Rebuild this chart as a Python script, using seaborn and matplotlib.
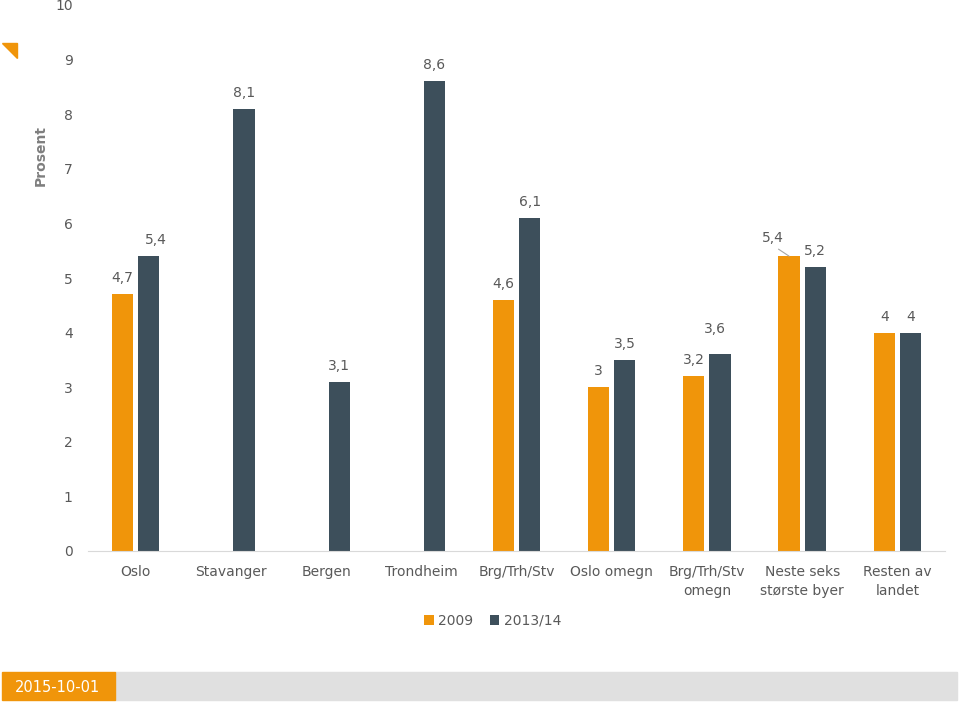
import pandas as pd
import matplotlib.pyplot as plt
import seaborn as sns
import numpy as np
from matplotlib.patches import Polygon, Rectangle

# data
kategorier = ["Oslo", "Stavanger", "Bergen", "Trondheim", "Brg/Trh/Stv",
              "Oslo omegn", "Brg/Trh/Stv\nomegn", "Neste seks\nstørste byer",
              "Resten av\nlandet"]
verdier_2009 = [4.7, np.nan, np.nan, np.nan, 4.6, 3.0, 3.2, 5.4, 4.0]
verdier_2013 = [5.4, 8.1, 3.1, 8.6, 6.1, 3.5, 3.6, 5.2, 4.0]
aar = ["2009", "2013/14"]

df = pd.DataFrame({
    "Kategori": kategorier * 2,
    "År": [aar[0]] * len(kategorier) + [aar[1]] * len(kategorier),
    "Prosent": verdier_2009 + verdier_2013,
})

orange = "#f0950a"
dark = "#3d4f5b"
grey_txt = "#595959"

sns.set_style("white")
plt.rcParams['font.family'] = ['DejaVu Sans']

fig = plt.figure(figsize=(9.6, 7.06), dpi=100)
ax = fig.add_axes([88 / 960, 1 - 551 / 706, 857 / 960, 546 / 706])

sns.barplot(data=df, x="Kategori", y="Prosent", hue="År", hue_order=aar,
            order=kategorier, palette=[orange, dark], width=0.55, gap=0.19,
            saturation=1, linewidth=0, ax=ax)

ax.set_ylim(0, 10)
ax.set_xlim(-0.5, len(kategorier) - 0.5)
ax.set_yticks(range(0, 11))
ax.tick_params(axis="y", length=0, pad=11, labelsize=10, labelcolor=grey_txt)
ax.tick_params(axis="x", length=0, pad=10, labelsize=10, labelcolor=grey_txt)
for t in ax.get_xticklabels():
    t.set_linespacing(1.45)
    t.set_verticalalignment("top")
for s in ["left", "right", "top"]:
    ax.spines[s].set_visible(False)
ax.spines["bottom"].set_color("#d9d9d9")
ax.set_xlabel("")
ax.set_ylabel("Prosent", fontsize=10, color="#7f7f7f", fontweight="bold")
ax.yaxis.set_label_coords(-0.047, 0.725)

# small nudges for some labels (points)
nudge = {("Oslo", "2013/14"): (5, 0),
         ("Brg/Trh/Stv\nomegn", "2013/14"): (-4, 7)}

for container, year in zip(ax.containers, aar):
    for bar in container:
        h = bar.get_height()
        if np.isnan(h) or h == 0:
            continue
        xc = bar.get_x() + bar.get_width() / 2
        cat = kategorier[int(round(xc))]
        txt = f"{h:g}".replace(".", ",")
        dx, dy = nudge.get((cat, year), (0, 0))
        if cat.startswith("Neste") and year == "2009":
            ax.annotate(txt, xy=(xc, h), xytext=(-12, 13),
                        textcoords="offset points", ha="center", va="center",
                        fontsize=10, color=grey_txt,
                        arrowprops=dict(arrowstyle="-", color="#a6a6a6",
                                        lw=0.8, shrinkA=1, shrinkB=0,
                                        relpos=(0.5, 0)))
        else:
            ax.annotate(txt, xy=(xc, h), xytext=(dx, 11.5 + dy),
                        textcoords="offset points", ha="center", va="center",
                        fontsize=10, color=grey_txt)

sns.move_legend(ax, "center", bbox_to_anchor=(0.513, 1 - 621 / 706),
                bbox_transform=fig.transFigure, ncol=2, frameon=False,
                title=None, fontsize=10, handlelength=0.7, handleheight=0.7,
                handletextpad=0.3, columnspacing=1.2)
for t in ax.get_legend().get_texts():
    t.set_color(grey_txt)

# orange corner triangle
fig.patches.append(Polygon([(2 / 960, 1 - 43 / 706), (17 / 960, 1 - 43 / 706),
                            (17 / 960, 1 - 58 / 706)], closed=True,
                           transform=fig.transFigure, color=orange))

# footer band with date
fig.patches.append(Rectangle((115 / 960, 1 - 700 / 706), 842 / 960, 28 / 706,
                             transform=fig.transFigure, color="#e0e0e0"))
fig.patches.append(Rectangle((2 / 960, 1 - 700 / 706), 113 / 960, 28 / 706,
                             transform=fig.transFigure, color=orange))
fig.text(58 / 960, 1 - 687 / 706, "2015-10-01", color="white", fontsize=10.5,
         ha="center", va="center")

fig.savefig("out.png", dpi=100)
